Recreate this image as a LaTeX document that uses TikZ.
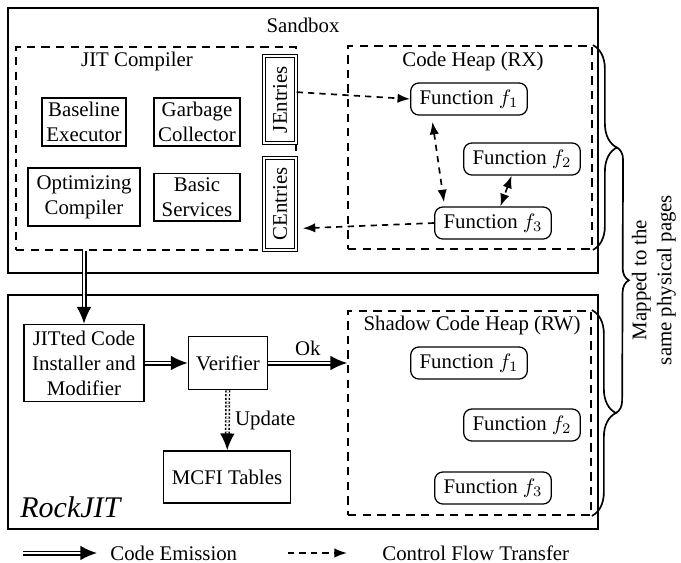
\documentclass[tikz,border=0pt]{standalone}
\usepackage{fontspec}
\setmainfont{Liberation Serif}
\usepackage{graphicx}
\usetikzlibrary{arrows.meta,decorations.pathreplacing}

\tikzset{
  >={Latex[length=6pt,width=4.5pt]},
  frame/.style={draw, line width=1.3pt},
  region/.style={draw, line width=0.9pt, dash pattern=on 4pt off 3pt},
  box/.style={draw, line width=0.8pt, align=center, inner sep=2pt},
  func/.style={draw, rounded corners=4pt, line width=0.6pt, inner sep=3pt, minimum width=56pt, minimum height=15.4pt},
  entry/.style={draw, fill=white, double, double distance=1pt, line width=0.5pt, inner sep=2pt, minimum width=15.4pt},
  cft/.style={line width=0.8pt, dash pattern=on 3pt off 2.5pt, ->},
  emit/.style={double, double distance=1pt, line width=0.7pt, -{Latex[length=8pt,width=7pt]}},
  upd/.style={double, double distance=1pt, line width=0.7pt, dash pattern=on 1pt off 0.8pt, -{Latex[length=8pt,width=7pt]}},
  bigbrace/.style={decorate, decoration={brace, amplitude=#1}, line width=0.8pt},
}

\begin{document}
\begin{tikzpicture}[x=0.48pt, y=-0.48pt]
\useasboundingbox (0,0) rectangle (681,563);

% outer boxes
\node[frame, minimum width=283.2pt, minimum height=127.2pt] (sandbox) at (303,140.5) {};
\node at (303,25) {Sandbox};
\node[frame, minimum width=283.2pt, minimum height=112.3pt] (rock) at (303,412) {};
\node[anchor=base west, font=\Large\itshape] (rocklbl) at (13,517) {RockJIT};

% JIT compiler
\node[region, minimum width=134.4pt, minimum height=97.4pt] (jit) at (156,148.5) {};
\node at (137,61) {JIT Compiler};
\node[box] (base) at (84,122) {Baseline\\Executor};
\node[box] (gc) at (197,122) {Garbage\\Collector};
\node[box, minimum width=53.8pt, minimum height=27.8pt] (opt) at (84,197) {Optimizing\\Compiler};
\node[box, minimum width=41.3pt] (svc) at (197,197) {Basic\\Services};
\node[entry, minimum height=41.8pt] (jent) at (280,99.5) {\rotatebox{90}{JEntries}};
\node[entry, minimum height=44pt] (cent) at (280,204) {\rotatebox{90}{CEntries}};

% code heap
\node[region, minimum width=117.1pt, minimum height=97.4pt] (code) at (470,147.5) {};
\node at (473,61) {Code Heap (RX)};
\node[func] (f1) at (469,99) {Function $f_1$};
\node[func] (f2) at (522,159) {Function $f_2$};
\node[func] (f3) at (493,223) {Function $f_3$};

% shadow code heap
\node[region, minimum width=116.6pt, minimum height=97.9pt] (shadow) at (469.5,413) {};
\node at (472,325) {Shadow Code Heap (RW)};
\node[func] (s1) at (469,363) {Function $f_1$};
\node[func] (s2) at (522,425) {Function $f_2$};
\node[func] (s3) at (493,488) {Function $f_3$};

% RockJIT parts
\node[box, minimum width=57.6pt, minimum height=37pt] (inst) at (84,363) {JITted Code\\Installer and\\Modifier};
\node[box, minimum width=38pt, minimum height=25.4pt] (ver) at (228,363) {Verifier};
\node[box, minimum width=61pt, minimum height=25pt] (mcfi) at (227,477) {MCFI Tables};

% control flow transfers
\draw[cft] (jent.24) -- (f1.west);
\draw[cft, shorten >=3pt] (f3.west) -- (cent.-56);
\draw[cft, <->, shorten <=3pt, shorten >=2pt] (f1.204) -- (f3.161);
\draw[cft, <->] (f2.238) -- (f3.66);

% code emission
\draw[emit] (jit.south -| inst.north) -- (inst.north);
\draw[emit] (inst) -- (ver);
\draw[emit] (ver) -- node[above] {Ok} (ver.east -| shadow.west);
\draw[upd] (ver) -- node[right] {Update} (mcfi);

% braces
\draw[bigbrace=11.5pt] (code.north east) -- (code.south east);
\draw[bigbrace=11.5pt] (shadow.north east) -- (shadow.south east);
\draw[bigbrace=6pt] ([xshift=11.5pt]code.east) -- ([xshift=11.5pt]shadow.east);
\node[rotate=90, align=center] (mapped) at (654,280) {Mapped to the\\same physical pages};

% legend
\coordinate (emitA) at (23,553);
\coordinate (emitB) at (97,553);
\coordinate (cftA) at (288,553);
\coordinate (cftB) at (347,553);
\draw[emit] (emitA) -- (emitB);
\node[anchor=west, inner sep=0pt] (emitlbl) at (110,553) {Code Emission};
\draw[cft] (cftA) -- (cftB);
\node[anchor=west, inner sep=0pt] (cftlbl) at (382,553) {Control Flow Transfer};
\end{tikzpicture}
\end{document}
